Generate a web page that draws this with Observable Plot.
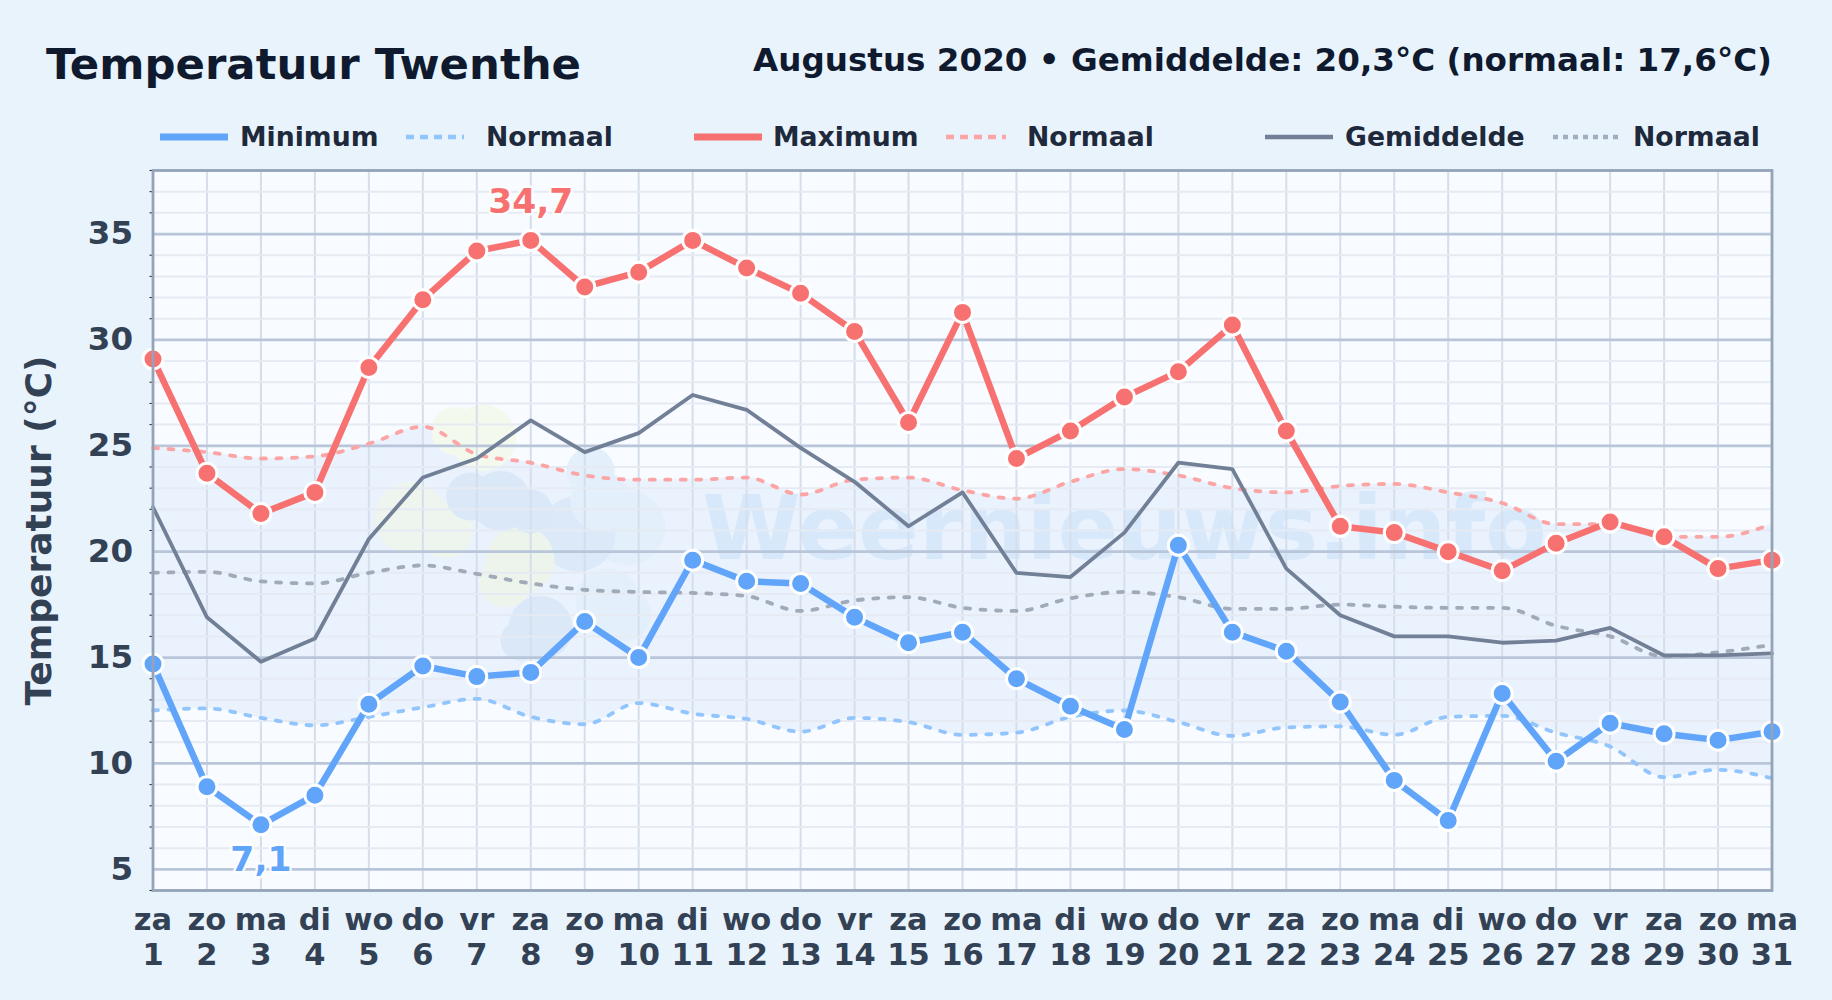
<!DOCTYPE html>
<html lang="nl">
<head>
<meta charset="utf-8">
<title>Temperatuur Twenthe</title>
<script src="https://cdn.jsdelivr.net/npm/d3@7"></script>
<script src="https://cdn.jsdelivr.net/npm/@observablehq/plot@0.6"></script>
<style>
html,body{margin:0;padding:0;background:#e9f3fc;}
body{width:1832px;height:1000px;position:relative;overflow:hidden;font-family:"DejaVu Sans",sans-serif;font-weight:bold;}
#head{position:relative;height:150px;}
#title{position:absolute;left:46px;top:39px;font-size:43.4px;line-height:50px;color:#0f1a2e;white-space:nowrap;}
#sub{position:absolute;right:60px;top:40px;font-size:32.6px;line-height:40px;color:#0f1a2e;white-space:nowrap;}
.lg{position:absolute;top:121px;height:32px;font-size:26.7px;line-height:32px;color:#1e293b;white-space:nowrap;}
.sw{position:absolute;top:121px;height:32px;}
svg{display:block;}
</style>
</head>
<body>
<div id="head">
  <div id="title">Temperatuur Twenthe</div>
  <div id="sub">Augustus 2020 • Gemiddelde: 20,3°C (normaal: 17,6°C)</div>
</div>
<div id="chart"></div>
<script>
const days = d3.range(1, 32);
const weekdays = ["za","zo","ma","di","wo","do","vr","za","zo","ma","di","wo","do","vr","za","zo","ma","di","wo","do","vr","za","zo","ma","di","wo","do","vr","za","zo","ma"];
const minimum = [14.7,8.9,7.1,8.5,12.8,14.6,14.1,14.3,16.7,15.0,19.6,18.6,18.5,16.9,15.7,16.2,14.0,12.7,11.6,20.3,16.2,15.3,12.9,9.2,7.3,13.3,10.1,11.9,11.4,11.1,11.5];
const maximum = [29.1,23.7,21.8,22.8,28.7,31.9,34.2,34.7,32.5,33.2,34.7,33.4,32.2,30.4,26.1,31.3,24.4,25.7,27.3,28.5,30.7,25.7,21.2,20.9,20.0,19.1,20.4,21.4,20.7,19.2,19.6];
const gemiddelde = [22.1,16.9,14.8,15.9,20.6,23.5,24.4,26.2,24.7,25.6,27.4,26.7,24.9,23.3,21.2,22.8,19.0,18.8,20.9,24.2,23.9,19.2,17.0,16.0,16.0,15.7,15.8,16.4,15.1,15.1,15.2];
const normaalMax = [24.9,24.7,24.4,24.5,25.1,25.9,24.6,24.2,23.6,23.4,23.4,23.5,22.7,23.4,23.5,22.9,22.5,23.3,23.9,23.6,23.0,22.8,23.1,23.2,22.8,22.3,21.3,21.3,20.7,20.7,21.3];
const normaalGem = [19.0,19.05,18.6,18.5,19.0,19.35,18.95,18.5,18.2,18.1,18.05,17.9,17.2,17.7,17.85,17.35,17.2,17.8,18.1,17.85,17.3,17.3,17.5,17.4,17.35,17.35,16.5,16.0,15.05,15.25,15.6];
const normaalMin = [12.5,12.6,12.15,11.8,12.2,12.65,13.05,12.2,11.85,12.85,12.35,12.1,11.5,12.15,11.95,11.35,11.45,12.2,12.5,11.95,11.3,11.7,11.75,11.35,12.2,12.25,11.45,10.8,9.35,9.7,9.3];
const majorTicks = [5,10,15,20,25,30,35];
const minorTicks = d3.range(4, 39).filter(v => v % 5 !== 0);

// faint logo behind the data, in data units
const logoX = [7.12,6.6,5.77,6.42,7.81,7.53, 9.79,9.11,9.29,9.42,9.75, 6.88,7.44,8,8.87,8.18,7.81];
const logoY = [25.38,25.7,21.6,21,19.6,18.6, 21.13,23.8,22.4,17.7,17, 22.6,22.4,21.9,20.85,16.4,15.8];
const logoR = [33,24,36,28,34,26, 38,24,30,32,26, 24,30,22,38,32,20];
const logoFill = ["#f4f9ee","#f4f9ee","#eef5ee","#eef5ee","#ecf4ec","#ecf4ec", "#e3f0fb","#e3f0fb","#e3f0fb","#e3f0fb","#e3f0fb", "#dae8f8","#dae8f8","#dae8f8","#dce9f9","#dbe8f7","#dbe8f7"];

const legend = [
  {label:"Minimum", sx:160, sw:68, tx:240, c:"#60a5fa", w:7, dash:null},
  {label:"Normaal", sx:406, sw:58, tx:486, c:"#93c5fd", w:4.5, dash:"8 6"},
  {label:"Maximum", sx:694, sw:68, tx:773, c:"#f87171", w:7, dash:null},
  {label:"Normaal", sx:946, sw:60, tx:1027, c:"#fca5a5", w:4.5, dash:"8 6"},
  {label:"Gemiddelde", sx:1265, sw:68, tx:1345, c:"#718096", w:4.5, dash:null},
  {label:"Normaal", sx:1553, sw:66, tx:1633, c:"#a0aec0", w:4.5, dash:"5 5"}
];
const head = document.getElementById("head");
for (const l of legend) {
  const s = document.createElementNS("http://www.w3.org/2000/svg","svg");
  s.setAttribute("class","sw");
  s.setAttribute("width", l.sw);
  s.setAttribute("height", 32);
  s.style.left = l.sx + "px";
  s.style.position = "absolute";
  const ln = document.createElementNS("http://www.w3.org/2000/svg","line");
  ln.setAttribute("x1",0); ln.setAttribute("x2",l.sw); ln.setAttribute("y1",16); ln.setAttribute("y2",16);
  ln.setAttribute("stroke",l.c); ln.setAttribute("stroke-width",l.w);
  if (l.dash) ln.setAttribute("stroke-dasharray",l.dash);
  s.appendChild(ln); head.appendChild(s);
  const t = document.createElement("div");
  t.className = "lg"; t.textContent = l.label; t.style.left = l.tx + "px";
  head.appendChild(t);
}

const table = days.map((d,i) => ({d, dow:weekdays[i], min:minimum[i], max:maximum[i], gem:gemiddelde[i], nMax:normaalMax[i], nGem:normaalGem[i], nMin:normaalMin[i]}));
const logo = logoX.map((x,i) => ({x, y:logoY[i], r:logoR[i], fill:logoFill[i]}));
const maxRow = table.filter(r => r.d === 8);
const minRow = table.filter(r => r.min === d3.min(minimum));
const fmt = v => String(v).replace(".", ",");
const bold = {fontWeight:"bold", fontFamily:"DejaVu Sans"};
const dashed = {strokeWidth:3.8, strokeDasharray:"5 10.5", strokeLinecap:"round", curve:"monotone-x"};

const chart = Plot.plot({
  width: 1832,
  height: 850,
  marginTop: 20,
  marginBottom: 110,
  marginLeft: 152.5,
  marginRight: 60.5,
  style: {background:"transparent", overflow:"visible", fontFamily:"DejaVu Sans"},
  x: {type:"linear", domain:[1,31]},
  y: {type:"linear", domain:[4,38]},
  r: {type:"identity"},
  marks: [
    Plot.frame({fill:"#f8fbff", stroke:"none"}),
    Plot.areaY(table, {x:"d", y1:"nMin", y2:"nMax", fill:"#dbeafe", fillOpacity:0.5, curve:"monotone-x"}),
    Plot.dot(logo, {x:"x", y:"y", r:"r", fill:"fill", stroke:"none"}),
    Plot.text(["Weernieuws.info"], {x:19, y:21, text:d=>d, fontSize:89.5, ...bold, fill:"#bcdaf5", fillOpacity:0.4}),
    Plot.ruleX(days, {x:d=>d, stroke:"#d5deea", strokeWidth:2}),
    Plot.ruleY(minorTicks, {y:d=>d, stroke:"#e6ebf3", strokeWidth:2}),
    Plot.ruleY(majorTicks, {y:d=>d, stroke:"#b9c6da", strokeWidth:2.8}),
    Plot.axisY({ticks:minorTicks, tickSize:3, tickFormat:()=>"", label:null, stroke:"#222"}),
    Plot.axisY({ticks:majorTicks, tickSize:0, tickPadding:20, label:null, fontSize:32.5, ...bold, fill:"#334155"}),
    Plot.axisX({ticks:days, tickSize:0, tickPadding:15, label:null, fontSize:30.5, lineHeight:1.15, ...bold, fill:"#334155",
      tickFormat:d=>`${weekdays[d-1]}\n${d}`}),
    Plot.text(["Temperatuur (°C)"], {frameAnchor:"left", textAnchor:"middle", rotate:-90, dx:-114, text:d=>d, fontSize:36, ...bold, fill:"#334155"}),
    Plot.lineY(table, {x:"d", y:"nMin", stroke:"#93c5fd", ...dashed}),
    Plot.lineY(table, {x:"d", y:"nMax", stroke:"#fca5a5", ...dashed}),
    Plot.lineY(table, {x:"d", y:"nGem", stroke:"#a0aab8", ...dashed}),
    Plot.lineY(table, {x:"d", y:"gem", stroke:"#718096", strokeWidth:3.8}),
    Plot.lineY(table, {x:"d", y:"min", stroke:"#60a5fa", strokeWidth:6.5}),
    Plot.lineY(table, {x:"d", y:"max", stroke:"#f87171", strokeWidth:6.5}),
    Plot.dot(table, {x:"d", y:"min", r:10, fill:"#60a5fa", stroke:"white", strokeWidth:3}),
    Plot.dot(table, {x:"d", y:"max", r:10, fill:"#f87171", stroke:"white", strokeWidth:3}),
    Plot.text(maxRow, {x:"d", y:"max", text:r=>fmt(r.max), dy:-38, fontSize:34.5, ...bold, fill:"#f87171", stroke:"white", strokeWidth:5, strokeOpacity:0.85}),
    Plot.text(minRow, {x:"d", y:"min", text:r=>fmt(r.min), dy:35, fontSize:34.5, ...bold, fill:"#60a5fa", stroke:"white", strokeWidth:5, strokeOpacity:0.85}),
    Plot.frame({stroke:"#94a3b8", strokeWidth:2.8, fill:"none"})
  ]
});
document.getElementById("chart").appendChild(chart);
</script>
</body>
</html>
